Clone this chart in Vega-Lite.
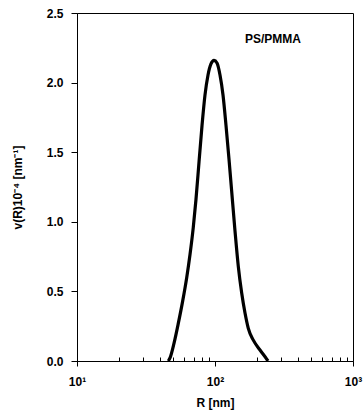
{
  "$schema": "https://vega.github.io/schema/vega-lite/v6.json",
  "width": 276,
  "height": 348,
  "autosize": {"type": "none"},
  "padding": {"left": 77, "top": 13, "right": 10, "bottom": 53},
  "background": "white",
  "config": {
    "view": {"stroke": "black", "strokeWidth": 1},
    "font": "Liberation Sans",
    "axis": {"domainColor": "black", "tickColor": "black", "labelColor": "black", "titleColor": "black", "grid": false, "labelFont": "Liberation Sans", "titleFont": "Liberation Sans", "labelFontWeight": "bold", "titleFontWeight": "bold"}
  },
  "datasets": {
    "curve": [
      {"R": 45.9, "v": 0.0},
      {"R": 47.2, "v": 0.022},
      {"R": 50.5, "v": 0.129},
      {"R": 54.2, "v": 0.27},
      {"R": 58.3, "v": 0.43},
      {"R": 62.4, "v": 0.6},
      {"R": 65.9, "v": 0.765},
      {"R": 69.6, "v": 0.96},
      {"R": 72.8, "v": 1.16},
      {"R": 76.6, "v": 1.43},
      {"R": 80.5, "v": 1.69},
      {"R": 84.6, "v": 1.91},
      {"R": 89.0, "v": 2.055},
      {"R": 93.5, "v": 2.134},
      {"R": 98.4, "v": 2.16},
      {"R": 103.4, "v": 2.141},
      {"R": 108.7, "v": 2.055},
      {"R": 114.3, "v": 1.911},
      {"R": 120.1, "v": 1.695},
      {"R": 126.3, "v": 1.45},
      {"R": 131.7, "v": 1.235},
      {"R": 139.6, "v": 0.935},
      {"R": 147.5, "v": 0.68},
      {"R": 156.1, "v": 0.488},
      {"R": 165.0, "v": 0.345},
      {"R": 174.3, "v": 0.235},
      {"R": 189.5, "v": 0.15},
      {"R": 211.9, "v": 0.079},
      {"R": 236.9, "v": 0.014},
      {"R": 242.1, "v": 0.0}
    ],
    "label": [
      {"R": 165, "v": 2.31, "text": "PS/PMMA"}
    ],
    "minor": [
      {"R": 20}, {"R": 30}, {"R": 40}, {"R": 50}, {"R": 60}, {"R": 70}, {"R": 80}, {"R": 90},
      {"R": 200}, {"R": 300}, {"R": 400}, {"R": 500}, {"R": 600}, {"R": 700}, {"R": 800}, {"R": 900}
    ]
  },
  "resolve": {"axis": {"x": "independent"}},
  "layer": [
    {
      "data": {"name": "curve"},
      "mark": {"type": "line", "color": "black", "strokeWidth": 3.2, "interpolate": "monotone"},
      "encoding": {
        "x": {
          "field": "R", "type": "quantitative",
          "scale": {"type": "log", "domain": [10, 1000], "nice": false},
          "axis": {
            "orient": "bottom",
            "title": "R [nm]",
            "titleFontSize": 12,
            "titlePadding": 10,
            "values": [10, 100, 1000],
            "labelExpr": "datum.value == 10 ? '10¹' : datum.value == 100 ? '10²' : datum.value == 1000 ? '10³' : ''",
            "labelFontSize": 12,
            "labelPadding": 10,
            "tickSize": 5,
            "labelFlush": false
          }
        },
        "y": {
          "field": "v", "type": "quantitative",
          "scale": {"domain": [0, 2.5], "nice": false},
          "axis": {
            "title": "v(R)10⁻⁴ [nm⁻¹]",
            "titleFontSize": 12,
            "titlePadding": 22,
            "values": [0, 0.5, 1, 1.5, 2, 2.5],
            "format": ".1f",
            "labelFontSize": 12,
            "tickSize": 6,
            "labelPadding": 8
          }
        }
      }
    },
    {
      "data": {"name": "minor"},
      "mark": {"type": "point", "opacity": 0},
      "encoding": {
        "x": {
          "field": "R", "type": "quantitative",
          "axis": {
            "orient": "bottom",
            "title": null,
            "values": [20, 30, 40, 50, 60, 70, 80, 90, 200, 300, 400, 500, 600, 700, 800, 900],
            "labels": false,
            "domain": false,
            "tickSize": -4
          }
        }
      }
    },
    {
      "data": {"name": "label"},
      "mark": {"type": "text", "align": "left", "baseline": "middle", "fontSize": 12, "fontWeight": "bold", "color": "black"},
      "encoding": {
        "x": {"field": "R", "type": "quantitative", "axis": null},
        "y": {"field": "v", "type": "quantitative"},
        "text": {"field": "text"}
      }
    }
  ]
}
